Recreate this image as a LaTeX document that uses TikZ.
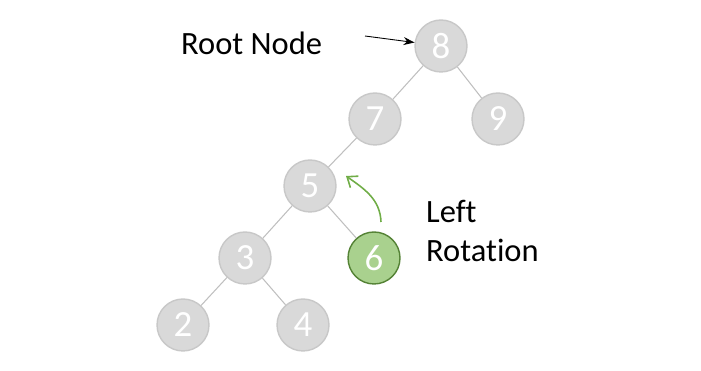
\documentclass[tikz,border=0pt]{standalone}
\usepackage{fontspec}
\setmainfont{Carlito}[Ligatures=NoCommon]
\usetikzlibrary{arrows.meta,positioning}
\definecolor{softgrey}{HTML}{D9D9D9}
\definecolor{deepgrey}{HTML}{C8C8C8}
\definecolor{edgegrey}{HTML}{BFBFBF}
\definecolor{softgreen}{HTML}{A9D18E}
\definecolor{deepgreen}{HTML}{548235}
\definecolor{arrowgreen}{HTML}{70AD47}
\tikzset{
  key/.style={circle,draw=deepgrey,fill=softgrey,line width=0.8pt,
              minimum size=1.04cm,inner sep=0pt,text=white,font=\fontsize{21}{21}\selectfont},
  rotated/.style={key,draw=deepgreen,fill=softgreen},
  label/.style={font=\fontsize{18.5}{22}\selectfont,align=left},
  edge/.style={draw=edgegrey,line width=0.6pt},
  pointer/.style={-{Stealth[length=2.2mm,width=1.6mm]},draw=black,line width=0.5pt}
}

\begin{document}
\begin{tikzpicture}[x=0.02cm,y=-0.02cm]
  \useasboundingbox (0,0) rectangle (701,371);
  \node[key] (k8) at (441,46) {8};
  \node[key] (k7) at (375,119) {7};
  \node[key] (k9) at (498,119) {9};
  \node[key] (k5) at (310,186) {5};
  \node[rotated] (k6) at (374,258) {6};
  \node[key] (k3) at (245,258) {3};
  \node[key] (k2) at (183,325) {2};
  \node[key] (k4) at (303,325) {4};
  \foreach \a/\b in {k8/k7,k8/k9,k7/k5,k5/k3,k5/k6,k3/k2,k3/k4}
    \draw[edge] (\a)--(\b);
  % labels
  \node[label,anchor=west] (root) at (175,43) {Root Node};
  \coordinate (rootstart) at (365,36);
  \draw[pointer] (rootstart)--(k8);
  \node[label,anchor=west] (rot) at (420,231) {Left\\Rotation};
  \coordinate (rotstart) at (381,222);
  \coordinate (rotend) at (346,176);
  \draw[-{Straight Barb[length=1.8mm,width=2.8mm]},draw=arrowgreen,line width=0.9pt]
    (rotstart) to[out=92,in=-35] (rotend);
\end{tikzpicture}
\end{document}
